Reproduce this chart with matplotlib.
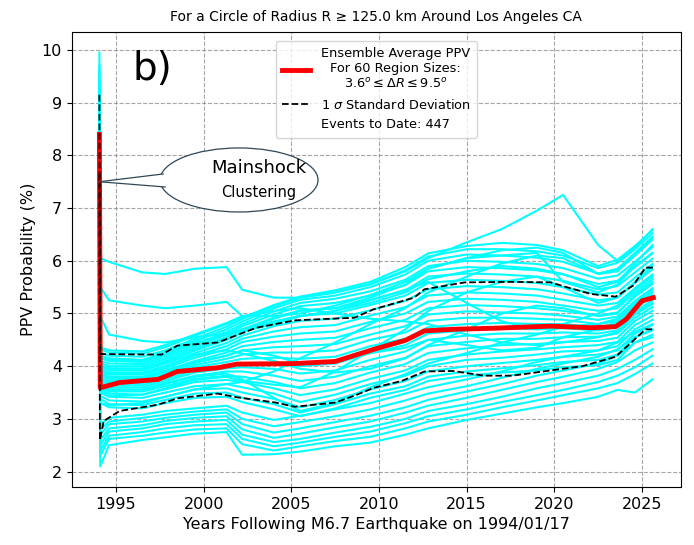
import matplotlib
matplotlib.use("Agg")
import matplotlib.pyplot as plt
from matplotlib.patches import Ellipse, Polygon
from matplotlib.lines import Line2D

# ---------------- data ----------------
spike_year = 1994.05
years = [1994.1, 1994.6, 1996.5, 1997.8, 1999.5, 2001.3, 2002.2, 2004.0, 2005.5, 2007.5,
         2009.5, 2011.5, 2012.8, 2015.0, 2017.0, 2019.0, 2020.5, 2022.5, 2023.6, 2024.6,
         2025.6]

low_group = [
    [2.10, 2.50, 2.60, 2.65, 2.72, 2.75, 2.32, 2.33, 2.38, 2.48, 2.55, 2.70, 2.82, 2.98, 3.10, 3.22, 3.30, 3.42, 3.55, 3.50, 3.75],
    [2.30, 2.62, 2.68, 2.74, 2.80, 2.82, 2.52, 2.40, 2.48, 2.58, 2.66, 2.82, 2.95, 3.08, 3.22, 3.35, 3.45, 3.58, 3.68, 3.85, 4.05],
    [2.40, 2.68, 2.75, 2.82, 2.88, 2.90, 2.62, 2.48, 2.55, 2.66, 2.76, 2.92, 3.05, 3.18, 3.32, 3.45, 3.55, 3.70, 3.82, 3.98, 4.20],
    [2.50, 2.76, 2.82, 2.90, 2.95, 2.98, 2.70, 2.56, 2.62, 2.74, 2.85, 3.00, 3.15, 3.28, 3.42, 3.58, 3.68, 3.82, 3.95, 4.12, 4.32],
    [2.60, 2.82, 2.88, 2.96, 3.02, 3.05, 2.80, 2.64, 2.72, 2.84, 2.95, 3.12, 3.25, 3.40, 3.55, 3.70, 3.80, 3.95, 4.08, 4.30, 4.45],
    [2.70, 2.90, 2.95, 3.02, 3.08, 3.12, 2.90, 2.74, 2.82, 2.94, 3.06, 3.22, 3.36, 3.52, 3.66, 3.82, 3.92, 4.05, 4.20, 4.45, 4.60],
    [2.80, 2.95, 3.02, 3.08, 3.14, 3.18, 3.00, 2.86, 2.94, 3.05, 3.18, 3.35, 3.48, 3.62, 3.78, 3.95, 4.05, 4.18, 4.32, 4.55, 4.70],
    [2.90, 3.02, 3.08, 3.15, 3.20, 3.25, 3.12, 2.98, 3.06, 3.18, 3.30, 3.48, 3.60, 3.75, 3.90, 4.08, 4.18, 4.30, 4.45, 4.65, 4.80],
]

main_group = [
    [3.30, 3.22, 3.20, 3.30, 3.40, 3.42, 3.32, 3.18, 3.05, 3.20, 3.40, 3.55, 3.72, 3.82, 3.88, 3.92, 3.98, 4.02, 4.12, 4.45, 4.55],
    [3.38, 3.28, 3.26, 3.36, 3.48, 3.50, 3.40, 3.28, 3.12, 3.28, 3.48, 3.62, 3.80, 3.90, 3.96, 4.02, 4.08, 4.12, 4.22, 4.55, 4.68],
    [3.44, 3.35, 3.33, 3.42, 3.56, 3.58, 3.50, 3.38, 3.22, 3.36, 3.56, 3.72, 3.90, 4.00, 4.06, 4.12, 4.18, 4.22, 4.30, 4.62, 4.78],
    [3.50, 3.42, 3.40, 3.50, 3.62, 3.66, 3.60, 3.48, 3.32, 3.46, 3.66, 3.82, 4.00, 4.12, 4.16, 4.22, 4.28, 4.30, 4.38, 4.70, 4.88],
    [3.54, 3.48, 3.46, 3.56, 3.70, 3.74, 3.70, 3.58, 3.45, 3.56, 3.76, 3.92, 4.12, 4.22, 4.28, 4.32, 4.36, 4.40, 4.46, 4.78, 4.96],
    [3.58, 3.52, 3.52, 3.62, 3.76, 3.82, 3.80, 3.70, 3.58, 3.68, 3.88, 4.04, 4.25, 4.34, 4.40, 4.42, 4.46, 4.48, 4.54, 4.86, 5.05],
    [3.62, 3.56, 3.56, 3.68, 3.82, 3.90, 3.90, 3.82, 3.72, 3.80, 4.00, 4.16, 4.38, 4.46, 4.52, 4.52, 4.55, 4.56, 4.62, 4.92, 5.12],
    [3.66, 3.60, 3.60, 3.72, 3.88, 3.96, 3.98, 3.95, 3.86, 3.92, 4.12, 4.28, 4.50, 4.58, 4.62, 4.62, 4.64, 4.62, 4.68, 4.98, 5.18],
    [3.70, 3.64, 3.64, 3.76, 3.92, 4.02, 4.06, 4.06, 4.00, 4.05, 4.25, 4.40, 4.62, 4.68, 4.72, 4.70, 4.72, 4.68, 4.74, 5.04, 5.25],
    [3.74, 3.68, 3.68, 3.80, 3.98, 4.08, 4.14, 4.16, 4.14, 4.18, 4.38, 4.52, 4.74, 4.80, 4.82, 4.80, 4.80, 4.74, 4.80, 5.10, 5.32],
    [3.78, 3.72, 3.72, 3.84, 4.02, 4.14, 4.22, 4.26, 4.26, 4.30, 4.50, 4.64, 4.86, 4.92, 4.92, 4.90, 4.88, 4.80, 4.86, 5.16, 5.40],
    [3.82, 3.76, 3.76, 3.88, 4.06, 4.20, 4.30, 4.36, 4.38, 4.42, 4.60, 4.76, 4.98, 5.04, 5.02, 5.00, 4.96, 4.88, 4.94, 5.24, 5.48],
    [3.86, 3.80, 3.80, 3.92, 4.10, 4.26, 4.38, 4.46, 4.50, 4.54, 4.72, 4.88, 5.10, 5.16, 5.14, 5.10, 5.05, 4.96, 5.02, 5.32, 5.56],
    [3.90, 3.84, 3.84, 3.96, 4.16, 4.32, 4.46, 4.56, 4.62, 4.66, 4.84, 5.00, 5.22, 5.28, 5.26, 5.22, 5.15, 5.05, 5.10, 5.40, 5.65],
    [3.94, 3.88, 3.88, 4.00, 4.20, 4.38, 4.52, 4.66, 4.74, 4.78, 4.96, 5.12, 5.34, 5.40, 5.38, 5.34, 5.26, 5.15, 5.20, 5.48, 5.74],
    [3.98, 3.92, 3.92, 4.05, 4.25, 4.44, 4.58, 4.76, 4.86, 4.90, 5.06, 5.24, 5.46, 5.52, 5.50, 5.46, 5.38, 5.25, 5.30, 5.58, 5.84],
    [4.02, 3.96, 3.96, 4.10, 4.30, 4.50, 4.64, 4.84, 4.96, 5.00, 5.16, 5.34, 5.58, 5.64, 5.62, 5.58, 5.50, 5.36, 5.40, 5.68, 5.94],
    [4.06, 4.00, 4.00, 4.14, 4.34, 4.55, 4.70, 4.92, 5.06, 5.10, 5.26, 5.44, 5.70, 5.76, 5.74, 5.70, 5.62, 5.46, 5.52, 5.78, 6.04],
    [4.10, 4.05, 4.04, 4.18, 4.38, 4.60, 4.76, 4.98, 5.14, 5.20, 5.34, 5.54, 5.80, 5.88, 5.86, 5.82, 5.74, 5.56, 5.62, 5.88, 6.14],
    [4.15, 4.10, 4.08, 4.22, 4.42, 4.65, 4.80, 5.04, 5.20, 5.28, 5.42, 5.64, 5.90, 6.00, 5.98, 5.94, 5.86, 5.66, 5.72, 5.98, 6.26],
    [4.20, 4.15, 4.12, 4.26, 4.48, 4.70, 4.85, 5.10, 5.26, 5.34, 5.50, 5.74, 6.00, 6.12, 6.10, 6.06, 5.98, 5.76, 5.84, 6.10, 6.40],
    [4.26, 4.20, 4.18, 4.30, 4.52, 4.75, 4.90, 5.14, 5.30, 5.40, 5.56, 5.82, 6.08, 6.22, 6.22, 6.18, 6.10, 5.86, 5.96, 6.22, 6.52],
    [4.32, 4.26, 4.24, 4.36, 4.58, 4.80, 4.92, 5.16, 5.32, 5.44, 5.60, 5.88, 6.14, 6.28, 6.34, 6.30, 6.20, 5.90, 6.02, 6.28, 6.58],
]

cross_group = [
    [4.36, 4.30, 4.28, 4.40, 4.60, 4.82, 4.95, 5.05, 5.10, 5.00, 4.90, 4.85, 4.80, 4.60, 4.45, 4.40, 4.45, 4.55, 4.65, 5.00, 5.20],
    [4.20, 4.12, 4.10, 4.22, 4.45, 4.60, 4.66, 4.80, 4.95, 5.05, 5.25, 5.45, 5.60, 5.20, 4.85, 4.70, 4.80, 5.00, 5.15, 5.45, 5.70],
    [3.50, 3.44, 3.46, 3.58, 3.74, 3.80, 3.72, 3.65, 3.60, 3.90, 4.30, 4.70, 5.05, 5.40, 5.60, 5.70, 5.50, 5.20, 5.30, 5.60, 5.90],
    [3.92, 3.86, 3.86, 4.00, 4.22, 4.30, 4.24, 4.10, 3.95, 3.88, 3.95, 4.15, 4.40, 4.70, 5.00, 5.15, 5.10, 4.95, 5.00, 5.35, 5.60],
    [3.30, 3.26, 3.30, 3.42, 3.56, 3.66, 3.70, 3.90, 4.15, 4.45, 4.80, 5.10, 5.40, 5.70, 5.95, 6.10, 6.05, 5.75, 5.85, 6.15, 6.45],
    [4.00, 3.95, 3.95, 4.08, 4.30, 4.55, 4.70, 4.90, 5.05, 5.10, 5.30, 5.55, 5.85, 6.05, 6.10, 6.15, 5.60, 5.40, 5.55, 5.90, 6.15],
    [3.60, 3.55, 3.55, 3.66, 3.80, 3.86, 3.75, 3.40, 3.15, 3.30, 3.60, 3.85, 4.05, 4.25, 4.45, 4.60, 4.75, 4.80, 4.90, 5.20, 5.45],
    [3.85, 3.80, 3.78, 3.90, 4.08, 4.20, 4.30, 4.20, 4.05, 4.10, 4.25, 4.35, 4.50, 4.40, 4.30, 4.35, 4.55, 4.70, 4.85, 5.15, 5.35],
]

outlier_group = [
    [6.05, 5.98, 5.78, 5.75, 5.85, 5.88, 5.45, 5.30, 5.30, 5.40, 5.55, 5.80, 6.05, 6.35, 6.60, 6.95, 7.25, 6.30, 6.00, 6.25, 6.60],
    [5.50, 5.25, 5.15, 5.10, 5.15, 5.22, 4.95, 4.95, 5.00, 5.15, 5.35, 5.60, 5.85, 6.05, 6.20, 6.25, 6.15, 5.75, 5.80, 6.10, 6.45],
    [4.95, 4.60, 4.48, 4.45, 4.55, 4.62, 4.70, 4.85, 4.95, 5.05, 5.20, 5.40, 5.65, 5.80, 5.90, 5.85, 5.75, 5.50, 5.60, 5.95, 6.30],
]

# values of each line at the mainshock (clustering spike), in the same order
spike_low = [7.0, 7.4, 7.8, 8.0, 8.2, 7.6, 8.1, 8.3]
spike_main = [8.5, 8.8, 9.95, 8.0, 8.3, 8.6, 9.2, 7.9, 8.4, 8.7, 9.0, 8.2, 7.7, 8.9,
              9.4, 8.1, 8.6, 7.5, 8.3, 9.1, 8.0, 8.8, 9.6]
spike_cross = [8.2, 9.3, 7.9, 8.6, 8.4, 8.5, 7.8, 8.9]
spike_outlier = [9.7, 9.0, 8.7]

mean_years = [1994.05, 1994.1, 1995.2, 1997.4, 1998.5, 2000.8, 2001.9, 2005.2, 2007.5,
              2009.7, 2011.5, 2012.6, 2014.2, 2016.5, 2019.8, 2022.1, 2023.5, 2024.1,
              2025.0, 2025.65]
mean_values = [8.40, 3.59, 3.69, 3.75, 3.90, 3.97, 4.04, 4.05, 4.09, 4.32, 4.49, 4.67,
               4.70, 4.72, 4.76, 4.73, 4.75, 4.89, 5.24, 5.30]

upper_years = [1994.05, 1994.1, 1997.6, 1998.5, 2000.8, 2003.0, 2005.2, 2008.6, 2009.7,
               2012.0, 2012.6, 2014.9, 2017.6, 2019.8, 2020.9, 2022.1, 2023.5, 2024.5,
               2025.2, 2025.65]
upper_values = [9.15, 4.23, 4.22, 4.39, 4.45, 4.73, 4.87, 4.92, 5.08, 5.30, 5.46, 5.59,
                5.60, 5.59, 5.48, 5.37, 5.32, 5.53, 5.87, 5.87]

lower_years = [1994.05, 1994.08, 1994.3, 1995.2, 1997.4, 1998.5, 2000.8, 2001.9, 2004.1,
               2005.2, 2007.5, 2008.6, 2009.7, 2011.3, 2012.6, 2014.2, 2016.0, 2017.6,
               2019.8, 2021.6, 2023.5, 2024.3, 2025.2, 2025.65]
lower_values = [7.65, 2.60, 2.96, 3.15, 3.27, 3.39, 3.48, 3.41, 3.31, 3.23, 3.31, 3.44,
                3.59, 3.72, 3.90, 3.91, 3.82, 3.82, 3.92, 4.00, 4.18, 4.42, 4.70, 4.70]

title = "For a Circle of Radius R \u2265 125.0 km Around Los Angeles CA"
xlabel = "Years Following M6.7 Earthquake on 1994/01/17"
ylabel = "PPV Probability (%)"
legend_mean = "Ensemble Average PPV\nFor 60 Region Sizes:\n$3.6^o \\leq \\Delta R \\leq 9.5^o$"
legend_sigma = "1 $\\sigma$ Standard Deviation"
legend_events = "Events to Date: 447"

# ---------------- plot ----------------
fig = plt.figure(figsize=(6.94, 5.45), dpi=100)
ax = fig.add_axes([0.1033, 0.1064, 0.878, 0.835])

groups = [(low_group, spike_low), (main_group, spike_main),
          (cross_group, spike_cross), (outlier_group, spike_outlier)]
for vals_list, spikes in groups:
    for vals, sp in zip(vals_list, spikes):
        ax.plot([spike_year] + years, [sp] + vals, color="cyan", lw=1.5, zorder=2)

ax.plot(mean_years, mean_values, color="red", lw=3.5, zorder=3, label=legend_mean)
ax.plot(upper_years, upper_values, color="black", ls="--", lw=1.3, zorder=4,
        label=legend_sigma)
ax.plot(lower_years, lower_values, color="black", ls="--", lw=1.3, zorder=4)

ax.set_yticks(range(2, 11))
ax.tick_params(labelsize=11.5)
ax.grid(True, linestyle="--", color="gray", alpha=0.7, lw=0.8)
ax.set_axisbelow(True)
ax.set_title(title, fontsize=10, pad=8)
ax.set_xlabel(xlabel, fontsize=11.5)
ax.set_ylabel(ylabel, fontsize=11.5)

handles, labels = ax.get_legend_handles_labels()
handles.append(Line2D([], [], color="none"))
labels.append(legend_events)
leg = ax.legend(handles, labels, loc="upper center", fontsize=9.3,
                bbox_to_anchor=(0.5, 0.995), borderpad=0.5, labelspacing=0.5,
                handlelength=2.2)
leg.get_texts()[0].set_multialignment("center")

ax.text(0.10, 0.895, "b)", transform=ax.transAxes, fontsize=28)

# callout
ecol = "#2f4858"
ell = Ellipse((0.2746, 0.6747), 0.2593, 0.1407, transform=ax.transAxes,
              facecolor="white", edgecolor=ecol, lw=0.9, zorder=6)
ax.add_patch(ell)
tip = ax.transData.transform((spike_year, 7.5))
tip = ax.transAxes.inverted().transform(tip)
b1 = (0.150, 0.6879)
b2 = (0.1532, 0.6593)
tail = Polygon([tip, b1, (0.165, 0.674), b2], closed=True, transform=ax.transAxes,
               facecolor="white", edgecolor="none", zorder=7)
ax.add_patch(tail)
ax.plot([tip[0], b1[0]], [tip[1], b1[1]], transform=ax.transAxes, color=ecol, lw=0.9, zorder=8)
ax.plot([tip[0], b2[0]], [tip[1], b2[1]], transform=ax.transAxes, color=ecol, lw=0.9, zorder=8)
ax.text(0.307, 0.702, "Mainshock", transform=ax.transAxes, fontsize=13,
        ha="center", va="center", zorder=9)
ax.text(0.307, 0.648, "Clustering", transform=ax.transAxes, fontsize=10.5,
        ha="center", va="center", zorder=9)

fig.savefig("out.png", dpi=100)
